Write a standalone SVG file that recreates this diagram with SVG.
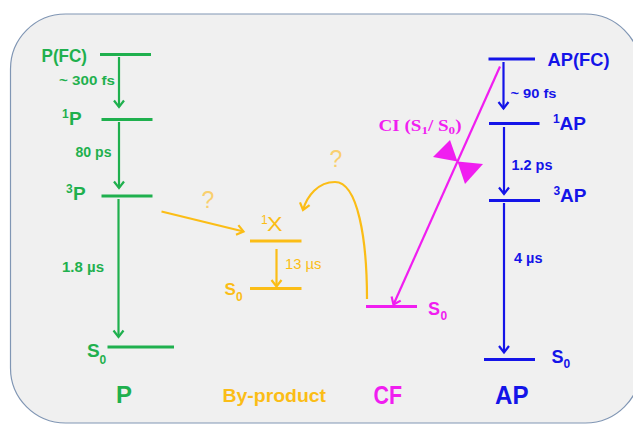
<svg xmlns="http://www.w3.org/2000/svg" width="633" height="426" viewBox="0 0 633 426">
<defs>
<style>
text{font-family:"Liberation Sans",Arial,sans-serif}
.b{font-weight:bold}
.lv{stroke-width:3;fill:none}
.ar{stroke-width:2.2;fill:none}
.g{fill:#1fb04e}.gs{stroke:#1fb04e}
.u{fill:#1414e8}.us{stroke:#1414e8}
.m{fill:#f01ef0}.ms{stroke:#f01ef0}
.o{fill:#fbbd16}.os{stroke:#fbbd16}
.q{fill:#f9cf6e}
</style>
<marker id="hg" markerUnits="userSpaceOnUse" markerWidth="16" markerHeight="16" refX="8" refY="8" orient="auto"><path d="M1.5,3 L8,8 L1.5,13" fill="none" stroke="#1fb04e" stroke-width="2.2"/></marker>
<marker id="hu" markerUnits="userSpaceOnUse" markerWidth="16" markerHeight="16" refX="8" refY="8" orient="auto"><path d="M1.5,3 L8,8 L1.5,13" fill="none" stroke="#1414e8" stroke-width="2.2"/></marker>
<marker id="hm" markerUnits="userSpaceOnUse" markerWidth="16" markerHeight="16" refX="8" refY="8" orient="auto"><path d="M1.5,3 L8,8 L1.5,13" fill="none" stroke="#f01ef0" stroke-width="2.2"/></marker>
<marker id="ho" markerUnits="userSpaceOnUse" markerWidth="16" markerHeight="16" refX="8" refY="8" orient="auto"><path d="M1.5,3 L8,8 L1.5,13" fill="none" stroke="#fbbd16" stroke-width="2.2"/></marker>
</defs>
<rect x="0" y="0" width="633" height="426" fill="#ffffff"/>
<rect x="10.5" y="14" width="630" height="409" rx="55" ry="55" fill="#f0f0f0" stroke="#8096b4" stroke-width="1.2"/>

<g id="P">
<line class="lv gs" x1="100" y1="54.5" x2="151" y2="54.5"/>
<text class="g b" x="41.5" y="62" font-size="19" textLength="45.5" lengthAdjust="spacingAndGlyphs">P(FC)</text>
<line class="lv gs" x1="101.5" y1="119.5" x2="152.5" y2="119.5"/>
<text class="g b" x="62" y="118" font-size="12">1</text>
<text class="g b" x="69" y="125" font-size="19">P</text>
<line class="lv gs" x1="101.5" y1="196" x2="152.5" y2="196"/>
<text class="g b" x="66" y="193" font-size="12">3</text>
<text class="g b" x="73" y="200" font-size="19">P</text>
<line class="lv gs" x1="107.5" y1="347" x2="174" y2="347"/>
<text class="g b" x="87" y="357" font-size="19">S</text>
<text class="g b" x="99.5" y="364" font-size="12">0</text>
<text class="g b" x="116" y="403" font-size="24">P</text>
<text class="g b" x="59" y="85" font-size="13.5" textLength="56" lengthAdjust="spacingAndGlyphs">~ 300 fs</text>
<text class="g b" x="75.5" y="157" font-size="14" textLength="36" lengthAdjust="spacingAndGlyphs">80 ps</text>
<text class="g b" x="62" y="272" font-size="14" textLength="42" lengthAdjust="spacingAndGlyphs">1.8 µs</text>
</g>

<g id="ByProduct">
<line class="lv os" x1="250" y1="241" x2="301.5" y2="241"/>
<text class="o" x="261" y="224" font-size="12">1</text>
<text class="o" x="267" y="231" font-size="20" textLength="15.5" lengthAdjust="spacingAndGlyphs">X</text>
<line class="lv os" x1="250" y1="288.5" x2="301.5" y2="288.5"/>
<text class="o b" x="224.5" y="295" font-size="17">S</text>
<text class="o b" x="236" y="301" font-size="12">0</text>
<text class="o" x="285" y="268.5" font-size="14" textLength="36.5" lengthAdjust="spacingAndGlyphs">13 µs</text>
<text class="q" x="201.5" y="208" font-size="23">?</text>
<text class="q" x="329.5" y="167" font-size="23">?</text>
<text class="o b" x="222.5" y="401.5" font-size="19" textLength="103.5" lengthAdjust="spacingAndGlyphs">By-product</text>
</g>

<g id="CF">
<line class="lv ms" x1="366" y1="306.5" x2="417" y2="306.5"/>
<text class="m b" x="428" y="315" font-size="18">S</text>
<text class="m b" x="440.5" y="320" font-size="12">0</text>
<text class="m b" x="373.5" y="403.5" font-size="25" textLength="28.5" lengthAdjust="spacingAndGlyphs">CF</text>
<text class="m b" x="378.5" y="130.5" font-size="16" style="font-family:'Liberation Serif',serif" textLength="83" lengthAdjust="spacingAndGlyphs">CI (S<tspan font-size="11" dy="3">1</tspan><tspan dy="-3">/ S</tspan><tspan font-size="11" dy="3">0</tspan><tspan dy="-3">)</tspan></text>
<polygon class="m" points="457.5,161.5 433,157 450,140"/>
<polygon class="m" points="457.5,161.5 483,164 465,184"/>
</g>

<g id="AP">
<line class="lv us" x1="488.5" y1="59" x2="535" y2="59"/>
<text class="u b" x="547.5" y="66" font-size="19" textLength="62" lengthAdjust="spacingAndGlyphs">AP(FC)</text>
<line class="lv us" x1="489" y1="123.5" x2="539.5" y2="123.5"/>
<text class="u b" x="553" y="123" font-size="12">1</text>
<text class="u b" x="559.5" y="130" font-size="19">AP</text>
<line class="lv us" x1="489" y1="200.5" x2="540" y2="200.5"/>
<text class="u b" x="553.5" y="195" font-size="12">3</text>
<text class="u b" x="560" y="202" font-size="19">AP</text>
<line class="lv us" x1="484" y1="359.5" x2="535" y2="359.5"/>
<text class="u b" x="551.5" y="363" font-size="18">S</text>
<text class="u b" x="563.5" y="368" font-size="12">0</text>
<text class="u b" x="495" y="404" font-size="25" textLength="33.5" lengthAdjust="spacingAndGlyphs">AP</text>
<text class="u b" x="510.5" y="97.5" font-size="13.5" textLength="46" lengthAdjust="spacingAndGlyphs">~ 90 fs</text>
<text class="u b" x="511.5" y="169.5" font-size="14" textLength="41" lengthAdjust="spacingAndGlyphs">1.2 ps</text>
<text class="u b" x="514" y="263" font-size="14" textLength="28.5" lengthAdjust="spacingAndGlyphs">4 µs</text>
</g>

<g id="connectors">
<line class="ar gs" x1="119" y1="57" x2="119" y2="107" marker-end="url(#hg)"/>
<line class="ar gs" x1="119" y1="122" x2="119" y2="188" marker-end="url(#hg)"/>
<line class="ar gs" x1="118.5" y1="199" x2="118.5" y2="337" marker-end="url(#hg)"/>
<line class="ar os" x1="276.5" y1="249" x2="276.5" y2="286.5" marker-end="url(#ho)"/>
<line class="ar os" x1="161.5" y1="211.5" x2="243.5" y2="231.5" marker-end="url(#ho)"/>
<path class="ar os" d="M367,299 C367,240 358,182 335,182 C318,182 307,196 303,210" marker-end="url(#ho)"/>
<line class="ar ms" x1="500" y1="66.5" x2="393.5" y2="304.5" marker-end="url(#hm)"/>
<line class="ar us" x1="503.5" y1="62" x2="503.5" y2="108.5" marker-end="url(#hu)"/>
<line class="ar us" x1="504" y1="127" x2="504" y2="194" marker-end="url(#hu)"/>
<line class="ar us" x1="504" y1="203" x2="504" y2="352.5" marker-end="url(#hu)"/>
</g>
</svg>
